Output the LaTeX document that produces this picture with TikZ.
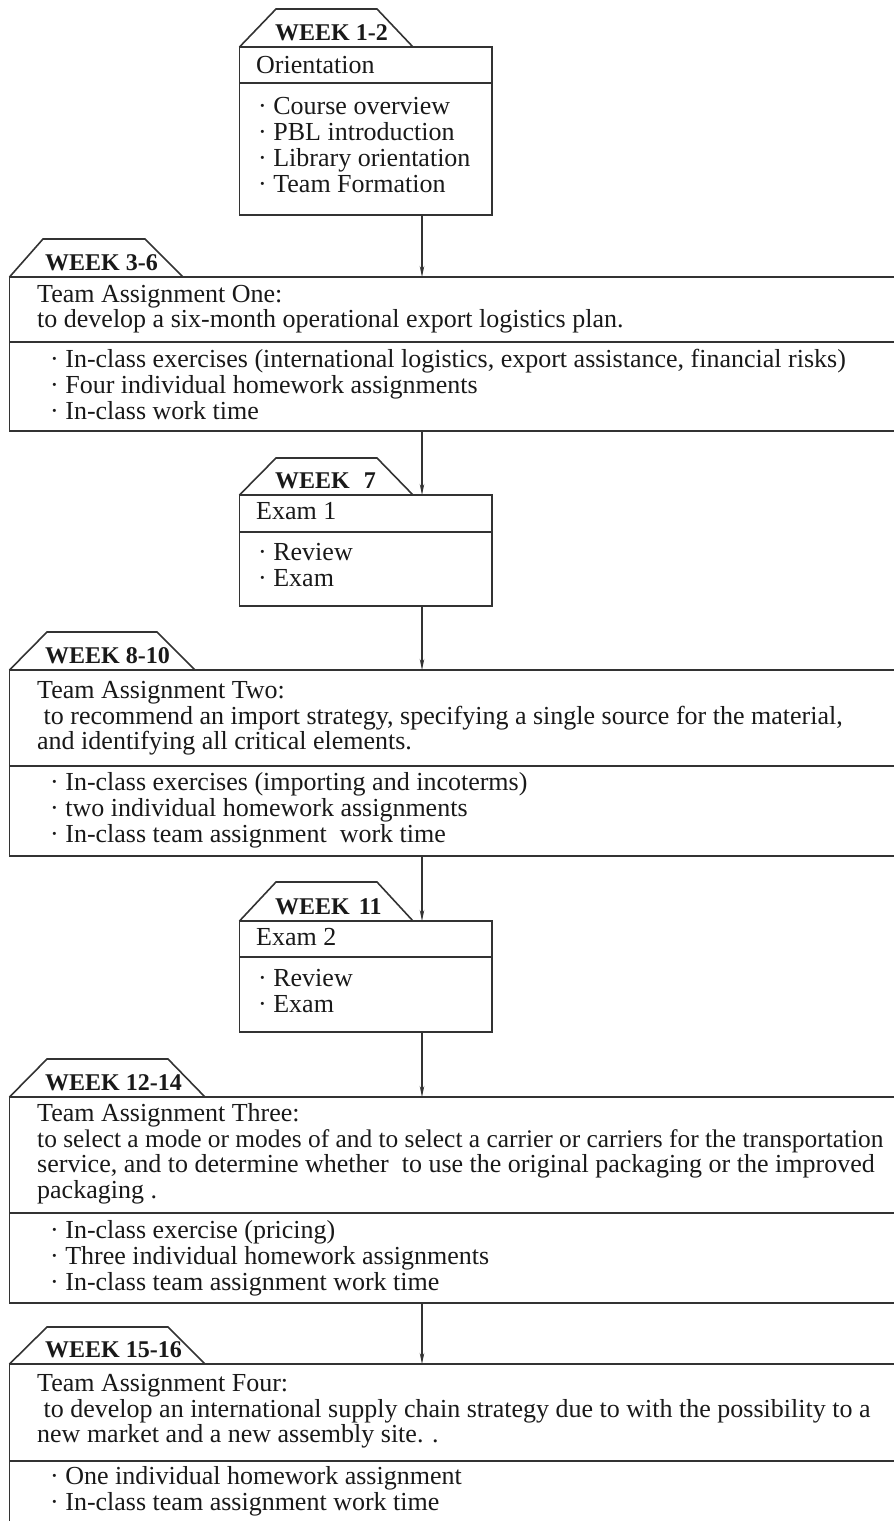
\documentclass[tikz,border=0pt]{standalone}
\usepackage{fontspec}
\setmainfont{Liberation Serif}
\usetikzlibrary{arrows.meta}

\tikzset{
  frame/.style={draw=black!80, line width=1.6pt},
  boxframe/.style={frame, anchor=north west, inner sep=0pt, outer sep=0pt},
  weeklabel/.style={anchor=base west, inner sep=0pt, text=black!90, font=\fontsize{24}{24}\selectfont\bfseries},
  body/.style={anchor=base west, inner sep=0pt, text=black!90, font=\fontsize{26}{26}\selectfont},
  flow/.style={draw=black!80, line width=1.2pt, -{Stealth[length=11pt,width=4.5pt]}}
}

\begin{document}
\begin{tikzpicture}[x=1pt,y=-1pt]
    \path[use as bounding box] (0,0) rectangle (894,1521);
    \clip (0,0) rectangle (894,1521);
    \coordinate (axis) at (422,0);

    % week 1-2
    \draw [frame] (239.5,47) -- (276,9) -- (377,9) -- (413,47);
    \node [weeklabel] (wk12) at (275,40) {WEEK 1-2};
    \node [boxframe, minimum width=252.5pt, minimum height=168pt] (orient) at (239.5,47) {};
    \draw [frame] (239.5,83) -- (492,83);
    \node [body] (orient-title) at (256,73) {Orientation};
    \foreach \t [count=\i from 0] in {Course overview, PBL introduction, Library orientation, Team Formation}
        \node [body] (orient-\i) at (258,{114+26*\i}) {\textperiodcentered\ \t};

    % week 3-6
    \draw [frame] (9.5,277) -- (43,239) -- (145,239) -- (183,277);
    \node [weeklabel] (wk36) at (45,270) {WEEK 3-6};
    \node [boxframe, minimum width=1000pt, minimum height=154pt] (assign1) at (9.5,277) {};
    \draw [frame] (9.5,342) -- (900,342);
    \foreach \t [count=\i from 0] in {Team Assignment One:, to develop a six-month operational export logistics plan.}
        \node [body] (assign1-title\i) at (37,{302+25.5*\i}) {\t};
    \foreach \t [count=\i from 0] in {{In-class exercises (international logistics, export assistance, financial risks)}, Four individual homework assignments, In-class work time}
        \node [body] (assign1-\i) at (50,{367.5+26*\i}) {\textperiodcentered\ \t};

    % week 7
    \draw [frame] (239.5,495) -- (276,458) -- (377,458) -- (413,495);
    \node [weeklabel] (wk7) at (275,488) {WEEK\hspace{14pt}7};
    \node [boxframe, minimum width=252.5pt, minimum height=111pt] (exam1) at (239.5,495) {};
    \draw [frame] (239.5,532) -- (492,532);
    \node [body] (exam1-title) at (256,519.5) {Exam 1};
    \foreach \t [count=\i from 0] in {Review, Exam}
        \node [body] (exam1-\i) at (258,{560+26*\i}) {\textperiodcentered\ \t};

    % week 8-10
    \draw [frame] (9.5,670) -- (47,632) -- (157,632) -- (195,670);
    \node [weeklabel] (wk810) at (45,663) {WEEK 8-10};
    \node [boxframe, minimum width=1000pt, minimum height=186pt] (assign2) at (9.5,670) {};
    \draw [frame] (9.5,766) -- (900,766);
    \foreach \t [count=\i from 0] in {Team Assignment Two:, {\ to recommend an import strategy, specifying a single source for the material,}, {and identifying all critical elements.}}
        \node [body] (assign2-title\i) at (37,{698.5+25.5*\i}) {\t};
    \foreach \t [count=\i from 0] in {In-class exercises (importing and incoterms), two individual homework assignments, In-class team assignment\ \ work time}
        \node [body] (assign2-\i) at (50,{790.5+26*\i}) {\textperiodcentered\ \t};

    % week 11
    \draw [frame] (239.5,921) -- (276,882) -- (377,882) -- (413,921);
    \node [weeklabel] (wk11) at (275,914) {WEEK\hspace{9pt}11};
    \node [boxframe, minimum width=252.5pt, minimum height=111pt] (exam2) at (239.5,921) {};
    \draw [frame] (239.5,957) -- (492,957);
    \node [body] (exam2-title) at (256,945.5) {Exam 2};
    \foreach \t [count=\i from 0] in {Review, Exam}
        \node [body] (exam2-\i) at (258,{986.5+26*\i}) {\textperiodcentered\ \t};

    % week 12-14
    \draw [frame] (9.5,1097) -- (47,1059) -- (168,1059) -- (205,1097);
    \node [weeklabel] (wk1214) at (45,1090) {WEEK 12-14};
    \node [boxframe, minimum width=1000pt, minimum height=206pt] (assign3) at (9.5,1097) {};
    \draw [frame] (9.5,1213) -- (900,1213);
    \foreach \t [count=\i from 0] in {Team Assignment Three:, {\fontsize{25.4}{26}\selectfont to select a mode or modes of and to select a carrier or carriers for the transportation}, {service, and to determine whether\ \ to use the original packaging or the improved}, packaging .}
        \node [body] (assign3-title\i) at (37,{1121.5+25.7*\i}) {\t};
    \foreach \t [count=\i from 0] in {In-class exercise (pricing), Three individual homework assignments, In-class team assignment work time}
        \node [body] (assign3-\i) at (50,{1238.5+26*\i}) {\textperiodcentered\ \t};

    % week 15-16
    \draw [frame] (9.5,1364) -- (47,1327) -- (168,1327) -- (205,1364);
    \node [weeklabel] (wk1516) at (45,1357) {WEEK 15-16};
    \node [boxframe, minimum width=1000pt, minimum height=200pt] (assign4) at (9.5,1364) {};
    \draw [frame] (9.5,1461) -- (900,1461);
    \foreach \t [count=\i from 0] in {Team Assignment Four:, \ to develop an international supply chain strategy due to with the possibility to a, new market and a new assembly site. .}
        \node [body] (assign4-title\i) at (37,{1391.5+25.5*\i}) {\t};
    \foreach \t [count=\i from 0] in {One individual homework assignment, In-class team assignment work time}
        \node [body] (assign4-\i) at (50,{1484.5+26*\i}) {\textperiodcentered\ \t};

    % flow
    \draw [flow] (orient.south -| axis) -- (assign1.north -| axis);
    \draw [flow] (assign1.south -| axis) -- (exam1.north -| axis);
    \draw [flow] (exam1.south -| axis) -- (assign2.north -| axis);
    \draw [flow] (assign2.south -| axis) -- (exam2.north -| axis);
    \draw [flow] (exam2.south -| axis) -- (assign3.north -| axis);
    \draw [flow] (assign3.south -| axis) -- (assign4.north -| axis);
\end{tikzpicture}
\end{document}
